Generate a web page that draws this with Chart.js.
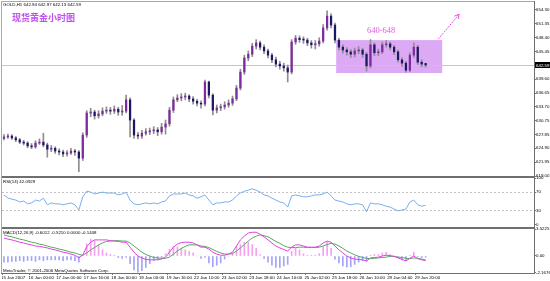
<!DOCTYPE html>
<html lang="zh-CN">
<head>
<meta charset="UTF-8">
<title>现货黄金小时图</title>
<style>
  html, body { margin: 0; padding: 0; background: #fff; }
  #wrap { position: relative; width: 550px; height: 281px; overflow: hidden; background: #fff; font-family: "Liberation Sans", Arial, sans-serif; }
  canvas { position: absolute; left: 2px; }
  .rule { position: absolute; background: #6f6f6f; }
  .tiny { position: absolute; left: 3px; font-size: 4.4px; line-height: 5px; color: #000; white-space: nowrap; }
  #title { position: absolute; left: 12px; top: 11px; font: bold 9px "Noto Sans CJK SC", sans-serif; color: #c24ff0; white-space: nowrap; }
  #zone { position: absolute; left: 367px; top: 24.5px; font: 8.5px "Liberation Serif", serif; color: #e25ae2; white-space: nowrap; }
</style>
</head>
<body>
<div id="wrap">
  <canvas id="price" width="548" height="178" style="top:2px"></canvas>
  <canvas id="rsi" width="548" height="55" style="top:175px"></canvas>
  <canvas id="macd" width="548" height="55" style="top:226px"></canvas>

  <div class="rule" style="left:1px;top:1px;width:534px;height:1px;background:#a3aca3"></div>
  <div class="rule" style="left:1px;top:1px;width:1px;height:273px;background:#a3aca3"></div>
  <div class="rule" style="left:534px;top:1px;width:1px;height:273px"></div>
  <div class="rule" style="left:2px;top:176px;width:532px;height:2px"></div>
  <div class="rule" style="left:2px;top:227px;width:532px;height:2px"></div>
  <div class="rule" style="left:1px;top:273px;width:534px;height:1px"></div>

  <div class="tiny" style="top:2px">GOLD,H1 642.94 642.97 642.13 642.59</div>
  <div id="title">现货黄金小时图</div>
  <div id="zone">640-648</div>
  <div class="tiny" style="top:179px">RSI(14) 42.0929</div>
  <div class="tiny" style="top:229.5px">MACD(12,26,9) -0.6012 -0.5210 0.0000 -0.1448</div>
  <div class="tiny" style="top:267.5px">MetaTrader, © 2001-2006 MetaQuotes Software Corp.</div>
</div>

<script src="https://cdn.jsdelivr.net/npm/chart.js"></script>
<script>
// 时间轴标签（每7根K线一个）
const timeLabels = ["15 Jan 2007", "16 Jan 00:00", "17 Jan 00:00", "17 Jan 16:00", "18 Jan 00:00",
  "19 Jan 00:00", "19 Jan 16:00", "22 Jan 10:00", "23 Jan 02:00", "23 Jan 18:00", "24 Jan 10:00",
  "25 Jan 02:00", "25 Jan 18:00", "26 Jan 10:00", "29 Jan 04:00", "29 Jan 20:00"];
const labelStep = 7;
const totalSlots = 135;   // 右侧留空

const opens = [
  627.0, 627.3, 627.5, 627.1, 626.7, 626.2, 626.0, 625.4, 625.2, 626.0,
  626.2, 625.6, 624.7, 624.9, 624.3, 624.1, 623.7, 623.9, 624.3, 624.1,
  622.8, 627.7, 632.4, 632.6, 631.8, 632.2, 632.8, 633.0, 632.8, 633.2,
  632.6, 632.8, 635.2, 630.9, 627.7, 627.5, 628.1, 628.4, 628.6, 628.8,
  628.4, 629.4, 630.1, 633.0, 635.2, 635.6, 635.8, 636.0, 635.4, 634.9,
  634.5, 634.3, 639.0, 636.2, 633.0, 633.5, 633.7, 634.1, 634.5, 635.4,
  637.7, 641.1, 644.1, 644.9, 646.6, 647.3, 646.4, 645.6, 644.7, 643.7,
  642.8, 642.4, 642.0, 641.1, 647.5, 648.3, 648.0, 647.9, 647.3, 646.9,
  647.1, 647.7, 650.5, 653.0, 651.1, 647.9, 646.4, 645.8, 645.4, 644.9,
  645.6, 645.8, 644.9, 642.4, 646.9, 645.2, 645.4, 646.9, 647.1, 646.4,
  645.4, 643.7, 643.0, 641.5, 644.7, 646.4, 643.2, 642.94];
const closes = [
  627.3, 627.5, 627.1, 626.7, 626.2, 626.0, 625.4, 625.2, 626.0, 626.2,
  625.6, 624.7, 624.9, 624.3, 624.1, 623.7, 623.9, 624.3, 624.1, 622.8,
  627.7, 632.4, 632.6, 631.8, 632.2, 632.8, 633.0, 632.8, 633.2, 632.6,
  632.8, 635.2, 630.9, 627.7, 627.5, 628.1, 628.4, 628.6, 628.8, 628.4,
  629.4, 630.1, 633.0, 635.2, 635.6, 635.8, 636.0, 635.4, 634.9, 634.5,
  634.3, 639.0, 636.2, 633.0, 633.5, 633.7, 634.1, 634.5, 635.4, 637.7,
  641.1, 644.1, 644.9, 646.6, 647.3, 646.4, 645.6, 644.7, 643.7, 642.8,
  642.4, 642.0, 641.1, 647.5, 648.3, 648.0, 647.9, 647.3, 646.9, 647.1,
  647.7, 650.5, 653.0, 651.1, 647.9, 646.4, 645.8, 645.4, 644.9, 645.6,
  645.8, 644.9, 642.4, 646.9, 645.2, 645.4, 646.9, 647.1, 646.4, 645.4,
  643.7, 643.0, 641.5, 644.7, 646.4, 643.2, 642.8, 642.59];
const highs = [
  627.8, 627.9, 627.8, 627.4, 627.0, 626.6, 626.3, 625.9, 626.5, 626.9,
  628.1, 626.0, 625.5, 625.2, 624.8, 624.5, 624.4, 624.9, 624.7, 624.4,
  628.2, 632.9, 633.4, 633.0, 632.9, 633.5, 633.7, 633.6, 633.9, 633.6,
  634.0, 636.2, 635.6, 631.2, 628.3, 628.7, 629.1, 629.2, 629.5, 629.3,
  630.2, 630.9, 633.6, 635.8, 636.3, 636.5, 636.6, 636.3, 635.9, 635.3,
  635.0, 639.4, 639.2, 636.5, 634.1, 634.3, 634.8, 635.2, 636.0, 638.3,
  641.7, 644.7, 645.6, 647.2, 648.0, 647.7, 646.9, 646.0, 645.1, 644.3,
  643.4, 643.0, 642.6, 648.0, 648.9, 648.8, 648.6, 648.3, 647.8, 647.8,
  648.4, 651.2, 654.1, 653.5, 651.5, 648.3, 646.9, 646.3, 645.9, 646.2,
  646.5, 646.2, 645.3, 648.0, 647.3, 646.0, 647.5, 647.8, 647.5, 646.8,
  645.8, 644.2, 643.4, 645.2, 647.3, 646.8, 643.7, 642.97];
const lows = [
  626.7, 627.0, 626.8, 626.3, 625.9, 625.6, 625.0, 624.8, 624.9, 625.7,
  625.2, 623.0, 624.2, 623.8, 623.5, 623.1, 623.2, 623.6, 623.4, 619.9,
  622.3, 627.2, 631.6, 631.1, 631.3, 631.8, 632.3, 632.1, 632.3, 631.9,
  631.9, 632.4, 627.3, 627.0, 626.9, 627.0, 627.7, 627.8, 628.0, 627.6,
  627.9, 627.9, 629.6, 632.5, 634.8, 635.0, 635.2, 634.8, 634.3, 633.9,
  633.4, 633.9, 635.6, 632.0, 632.4, 632.9, 633.2, 633.6, 634.0, 635.0,
  637.3, 640.6, 643.5, 644.4, 646.0, 645.8, 645.0, 644.1, 643.1, 642.2,
  641.7, 641.3, 639.0, 640.7, 647.0, 647.4, 647.2, 646.7, 646.2, 646.0,
  646.6, 647.3, 650.0, 650.5, 647.3, 645.8, 645.1, 644.7, 644.2, 644.3,
  645.0, 644.2, 641.3, 642.0, 644.6, 644.6, 645.0, 646.4, 645.8, 644.8,
  643.2, 642.3, 641.1, 641.2, 644.2, 642.7, 642.2, 642.13];

const rsi = [
  63.8, 57.4, 55, 53, 49, 51, 45, 47, 53, 51,
  57, 43, 47, 45, 45, 43, 45, 47, 43, 32,
  60, 72, 70, 66, 68, 70, 68, 68, 68, 64,
  66, 70, 53, 45, 43, 45, 47, 45, 47, 45,
  49, 51, 62, 66, 66, 66, 68, 64, 62, 57,
  60, 64, 53, 43, 47, 47, 49, 49, 53, 62,
  68, 72, 74, 77, 74, 70, 64, 62, 57, 53,
  49, 47, 38, 62, 64, 62, 60, 60, 62, 64,
  64, 66, 70, 62, 53, 51, 49, 45, 43, 45,
  45, 43, 28, 47, 45, 45, 43, 40, 38, 34,
  30, 32, 34, 49, 53, 43, 40, 42.09];

const macdLine = [
  2.35, 2.2, 2.1, 1.95, 1.8, 1.7, 1.55, 1.45, 1.3, 1.25,
  1.15, 1.05, 0.9, 0.8, 0.65, 0.5, 0.4, 0.25, 0.1, -0.25,
  0.15, 1.2, 1.8, 2.1, 2.1, 2.1, 2.1, 2.0, 1.95, 1.9,
  1.8, 1.8, 1.15, 0.5, 0, -0.25, -0.45, -0.5, -0.5, -0.5,
  -0.4, -0.15, 0.5, 1.15, 1.55, 1.75, 1.8, 1.8, 1.7, 1.45,
  1.15, 1.15, 0.9, 0.5, 0.25, 0.1, 0.1, 0.25, 0.5, 1.3,
  2.1, 2.6, 3.0, 3.1, 3.1, 2.85, 2.5, 2.1, 1.7, 1.3,
  1.05, 0.85, 0.65, 1.15, 1.45, 1.45, 1.3, 1.15, 1.15, 1.15,
  1.3, 1.7, 1.95, 1.8, 1.3, 0.8, 0.4, 0, -0.25, -0.4,
  -0.45, -0.5, -0.65, -0.25, -0.2, -0.15, 0, 0.1, 0.05, -0.05,
  -0.25, -0.45, -0.65, -0.3, 0, -0.35, -0.5, -0.6012];
const signalLine = [
  2.75, 2.6, 2.5, 2.35, 2.2, 2.1, 1.95, 1.8, 1.7, 1.55,
  1.45, 1.3, 1.15, 1.05, 0.9, 0.8, 0.65, 0.5, 0.4, 0.2,
  0.1, 0.4, 0.8, 1.1, 1.45, 1.7, 1.9, 1.95, 2.0, 2.0,
  1.95, 1.95, 1.7, 1.3, 0.9, 0.5, 0.2, 0, -0.2, -0.25,
  -0.3, -0.3, -0.15, 0.25, 0.65, 1.0, 1.25, 1.45, 1.45, 1.45,
  1.3, 1.25, 1.1, 0.85, 0.6, 0.4, 0.25, 0.25, 0.3, 0.65,
  1.05, 1.5, 1.95, 2.35, 2.6, 2.75, 2.65, 2.5, 2.2, 1.9,
  1.65, 1.35, 1.15, 1.1, 1.1, 1.15, 1.15, 1.1, 1.1, 1.1,
  1.15, 1.3, 1.5, 1.65, 1.55, 1.3, 1.0, 0.65, 0.4, 0.15,
  -0.05, -0.2, -0.3, -0.35, -0.3, -0.25, -0.2, -0.15, -0.05, -0.05,
  -0.15, -0.2, -0.3, -0.35, -0.25, -0.3, -0.4, -0.521];
const macdHist = [
  -0.8, -0.8, -0.7, -0.7, -0.6, -0.7, -0.6, -0.6, -0.7, -0.5,
  -0.6, -0.5, -0.5, -0.5, -0.5, -0.6, -0.5, -0.5, -0.6, -0.8,
  0.1, 1.6, 2.2, 2.0, 1.4, 0.8, 0.4, 0.2, 0.1, -0.2,
  -0.3, -0.2, -1.0, -1.8, -2.1, -1.9, -1.5, -1.0, -0.6, -0.5,
  -0.2, 0.3, 0.9, 1.2, 1.2, 1.0, 0.8, 0.6, 0.4, 0.0,
  -0.3, -0.2, -0.9, -1.4, -1.2, -0.9, -0.4, 0.0, 0.4, 1.2,
  1.5, 1.8, 1.8, 1.5, 1.0, 0.2, -0.3, -0.8, -1.2, -1.5,
  -1.5, -1.3, -1.1, 0.6, 1.0, 0.8, 0.3, 0.1, 0.1, 0.1,
  0.3, 1.2, 1.8, 1.0, -0.4, -0.9, -1.3, -1.45, -1.4, -1.1,
  -0.8, -0.6, -0.7, 0.1, 0.2, 0.2, 0.4, 0.5, 0.2, 0.0,
  -0.2, -0.5, -0.6, 0.1, 0.5, -0.1, -0.2, -0.1448];

// 刻度
const priceTicks = [654.30, 651.35, 648.40, 645.45, 639.60, 636.65, 633.70, 630.75, 627.85, 624.90, 621.95, 619.00];
const rsiTicks = [100, 70, 30, 0];
const rsiLevels = [70, 30];
const macdTicks = [3.5225, 0, -2.1676];
const macdTickText = ["3.5225", "0.00", "-2.1676"];

// 640-648 区间框和箭头（K线序号, 价格）
const zoneFrom = 84.3, zoneTo = 111.2, zoneTop = 647.9, zoneBottom = 640.9;
const arrowFrom = [110.2, 648.1], arrowTo = [115.5, 653.4];

const lastClose = closes[closes.length - 1];
const xLabels = Array.from({ length: totalSlots }, (_, i) =>
  i % labelStep === 0 ? (timeLabels[i / labelStep] || "") : "");

const tickFont = { family: "Liberation Sans", size: 4.4 };
const axisWidth = 16;

function fitY(scale) {
  scale.width = axisWidth;
  scale.paddingTop = 0;
  scale.paddingBottom = 0;
}

function yAxis(min, max, values, cb) {
  return {
    position: "right", min: min, max: max, bounds: "data",
    afterBuildTicks: s => { s.ticks = values.map(v => ({ value: v })); },
    afterFit: fitY,
    ticks: { font: tickFont, color: "#000", padding: 0, autoSkip: false, callback: cb },
    grid: { drawOnChartArea: false, tickLength: 2, tickColor: "#777" },
    border: { display: false }
  };
}

const noPlugins = { legend: { display: false }, tooltip: { enabled: false } };

// 区间框、现价线、箭头、现价标签
const priceMarks = {
  id: "priceMarks",
  beforeDatasetsDraw(chart) {
    const { ctx, chartArea: a, scales: { x, y } } = chart;
    const x0 = x.getPixelForValue(zoneFrom), x1 = x.getPixelForValue(zoneTo);
    const y0 = y.getPixelForValue(zoneTop), y1 = y.getPixelForValue(zoneBottom);
    ctx.save();
    ctx.fillStyle = "#dcaaf4";
    ctx.fillRect(x0, y0, x1 - x0, y1 - y0);
    const yb = Math.round(y.getPixelForValue(lastClose)) + 0.5;
    ctx.strokeStyle = "#c6c6c6";
    ctx.lineWidth = 1;
    ctx.beginPath();
    ctx.moveTo(a.left, yb);
    ctx.lineTo(a.right, yb);
    ctx.stroke();
    ctx.restore();
  },
  afterDraw(chart) {
    const { ctx, chartArea: a, scales: { x, y } } = chart;
    const ax = x.getPixelForValue(arrowFrom[0]), ay = y.getPixelForValue(arrowFrom[1]);
    const bx = x.getPixelForValue(arrowTo[0]), by = y.getPixelForValue(arrowTo[1]);
    ctx.save();
    ctx.strokeStyle = "#ec4fec";
    ctx.lineWidth = 1;
    ctx.setLineDash([2, 1]);
    ctx.beginPath();
    ctx.moveTo(ax, ay);
    ctx.lineTo(bx, by);
    ctx.stroke();
    ctx.setLineDash([]);
    const ang = Math.atan2(by - ay, bx - ax);
    ctx.beginPath();
    ctx.moveTo(bx - 5 * Math.cos(ang - 0.5), by - 5 * Math.sin(ang - 0.5));
    ctx.lineTo(bx, by);
    ctx.lineTo(bx - 5 * Math.cos(ang + 0.5), by - 5 * Math.sin(ang + 0.5));
    ctx.stroke();

    const yb = Math.round(y.getPixelForValue(lastClose));
    ctx.fillStyle = "#000";
    ctx.fillRect(a.right + 1, yb - 3, 15, 6);
    ctx.fillStyle = "#fff";
    ctx.font = "4.4px 'Liberation Sans'";
    ctx.textBaseline = "middle";
    ctx.fillText(lastClose.toFixed(2), a.right + 2, yb + 0.5);
    ctx.restore();
  }
};

new Chart(document.getElementById("price"), {
  type: "bar",
  data: {
    labels: xLabels,
    datasets: [
      {
        data: opens.map((o, i) => [o, closes[i]]),
        backgroundColor: opens.map((o, i) => closes[i] >= o ? "#7d2ba0" : "#1d1865"),
        barThickness: 1.6, minBarLength: 1, grouped: false, order: 0
      },
      {
        data: lows.map((l, i) => [l, highs[i]]),
        backgroundColor: "#8e8e8e",
        barThickness: 1, grouped: false, order: 1
      }
    ]
  },
  options: {
    responsive: false, animation: false,
    layout: { autoPadding: false, padding: { bottom: 3 } },
    plugins: noPlugins,
    scales: {
      x: { display: false, offset: true },
      y: yAxis(618.79, 656.0, priceTicks, v => v.toFixed(2))
    }
  },
  plugins: [priceMarks]
});

const rsiY = yAxis(-4.26, 100, rsiTicks, v => String(v));
rsiY.grid = {
  drawOnChartArea: true, tickLength: 2, tickColor: "#777",
  color: c => c.tick && rsiLevels.includes(c.tick.value) ? "#c4c4c4" : "rgba(0,0,0,0)"
};
rsiY.border = { display: false, dash: [2, 2] };

new Chart(document.getElementById("rsi"), {
  type: "line",
  data: {
    labels: xLabels,
    datasets: [{ data: rsi, borderColor: "#78aef0", borderWidth: 1, pointRadius: 0, tension: 0 }]
  },
  options: {
    responsive: false, animation: false,
    layout: { autoPadding: false, padding: { top: 3, bottom: 3 } },
    plugins: noPlugins,
    scales: { x: { display: false, offset: true }, y: rsiY }
  }
});

new Chart(document.getElementById("macd"), {
  type: "bar",
  data: {
    labels: xLabels,
    datasets: [
      { type: "line", data: macdLine, borderColor: "#e040e0", borderWidth: 1, pointRadius: 0, tension: 0, order: 0 },
      { type: "line", data: signalLine, borderColor: "#58a858", borderWidth: 1, pointRadius: 0, tension: 0, order: 0 },
      {
        data: macdHist,
        backgroundColor: c => c.raw >= 0 ? "#f5a0f0" : "#a4a4f8",
        barThickness: 1, grouped: false, order: 1
      }
    ]
  },
  options: {
    responsive: false, animation: false,
    layout: { autoPadding: false, padding: { top: 3 } },
    plugins: noPlugins,
    scales: {
      x: {
        offset: true,
        afterFit: s => { s.height = 8; s.paddingLeft = 0; s.paddingRight = 0; },
        ticks: { font: tickFont, color: "#000", autoSkip: false, maxRotation: 0, minRotation: 0, align: "start", padding: 0, labelOffset: -3 },
        grid: {
          drawOnChartArea: false, tickLength: 2,
          tickColor: c => c.tick && c.tick.label ? "#777" : "rgba(0,0,0,0)"
        },
        border: { display: false }
      },
      y: yAxis(-2.218, 3.5225, macdTicks, (v, i) => macdTickText[i])
    }
  }
});
</script>
</body>
</html>
